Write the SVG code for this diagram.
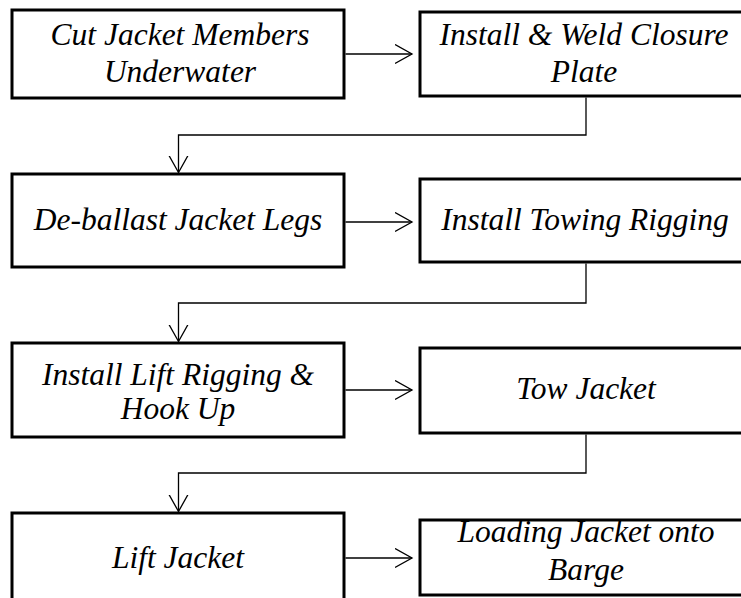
<svg xmlns="http://www.w3.org/2000/svg" width="741" height="598" viewBox="0 0 741 598">
<style>
.box{fill:#fff;stroke:#000;stroke-width:3}
.t{font-family:"Liberation Serif","Times New Roman",serif;font-style:italic;font-size:31.5px;fill:#000;text-anchor:middle}
.c{fill:none;stroke:#000;stroke-width:1.3}
</style>
<defs>
<marker id="ah" markerWidth="20" markerHeight="22" refX="17" refY="10" orient="auto" markerUnits="userSpaceOnUse">
<path d="M0,0.5 L17,10 L0,19.5" fill="none" stroke="#000" stroke-width="1.3"/>
</marker>
</defs>
<rect width="741" height="598" fill="#fff"/>
<g id="n1"><rect class="box" x="12" y="10" width="332" height="88"/><text class="t" x="180" y="45">Cut Jacket Members</text><text class="t" x="180" y="82">Underwater</text></g>
<g id="n2"><rect class="box" x="420" y="12" width="330" height="84"/><text class="t" x="584" y="45">Install &amp; Weld Closure</text><text class="t" x="584" y="82">Plate</text></g>
<g id="n3"><rect class="box" x="12" y="174" width="332" height="93"/><text class="t" x="178" y="230">De-ballast Jacket Legs</text></g>
<g id="n4"><rect class="box" x="420" y="179" width="330" height="83"/><text class="t" x="585" y="230">Install Towing Rigging</text></g>
<g id="n5"><rect class="box" x="12" y="343" width="332" height="94"/><text class="t" x="178" y="385">Install Lift Rigging &amp;</text><text class="t" x="178" y="419">Hook Up</text></g>
<g id="n6"><rect class="box" x="420" y="348" width="330" height="85"/><text class="t" x="586" y="399">Tow Jacket</text></g>
<g id="n7"><rect class="box" x="12" y="513" width="332" height="100"/><text class="t" x="178" y="568">Lift Jacket</text></g>
<g id="n8"><rect class="box" x="420" y="520" width="330" height="75"/><text class="t" x="586" y="542">Loading Jacket onto</text><text class="t" x="586" y="580">Barge</text></g>
<g id="connectors">
<path class="c" d="M345.5,54 H412" marker-end="url(#ah)"/>
<path class="c" d="M345.5,222 H412" marker-end="url(#ah)"/>
<path class="c" d="M345.5,390 H412" marker-end="url(#ah)"/>
<path class="c" d="M345.5,558 H412" marker-end="url(#ah)"/>
<path class="c" d="M586,97.5 V135 H178.5 V172.5" marker-end="url(#ah)"/>
<path class="c" d="M586,263.5 V303 H178.5 V341.5" marker-end="url(#ah)"/>
<path class="c" d="M586,434.5 V473 H178.5 V511.5" marker-end="url(#ah)"/>
</g>
</svg>
